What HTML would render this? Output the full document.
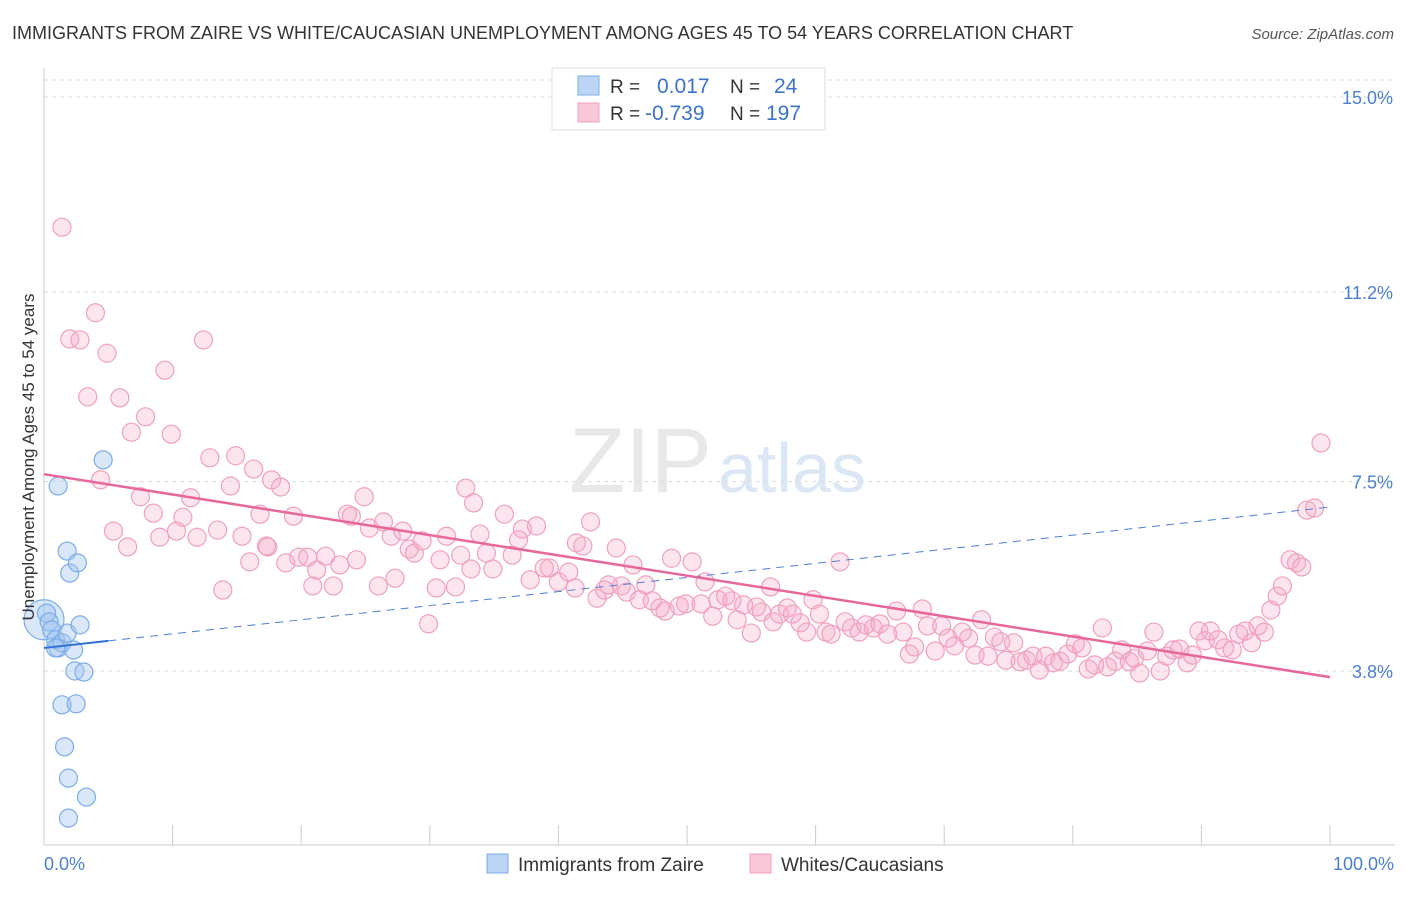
<!DOCTYPE html>
<html><head><meta charset="utf-8"><style>
body{margin:0;background:#fff;font-family:"Liberation Sans",sans-serif;}
svg text{font-family:"Liberation Sans",sans-serif;}
</style></head><body>
<svg id="chart" width="1406" height="892" xmlns="http://www.w3.org/2000/svg">
<text x="12" y="39" font-size="18" fill="#333">IMMIGRANTS FROM ZAIRE VS WHITE/CAUCASIAN UNEMPLOYMENT AMONG AGES 45 TO 54 YEARS CORRELATION CHART</text>
<text x="1394" y="39" font-size="15" fill="#555" text-anchor="end" font-style="italic">Source: ZipAtlas.com</text>
<text x="712" y="492" font-size="92" fill="#e8e8e8" text-anchor="end" font-family="Liberation Serif">ZIP</text>
<text x="718" y="492" font-size="70" fill="#dbe7f5">atlas</text>
<g id="grid"></g>
<g id="marks"></g>
<text transform="translate(34,457) rotate(-90)" font-size="17" fill="#333" text-anchor="middle">Unemployment Among Ages 45 to 54 years</text>
<text x="44" y="870" font-size="18" fill="#4a7fd0">0.0%</text>
<text x="1394" y="870" font-size="18" fill="#4a7fd0" text-anchor="end">100.0%</text>
<g>
<rect x="552" y="68" width="273" height="62" fill="#fff" stroke="#ddd"/>
<rect x="578" y="76" width="21" height="19" fill="#bcd5f5" stroke="#7aaee8"/>
<rect x="578" y="103" width="21" height="19" fill="#fac8d8" stroke="#f0a0be"/>
<text x="610" y="93" font-size="19" fill="#333">R =</text>
<text x="657" y="93" font-size="21" fill="#3a73cc">0.017</text>
<text x="730" y="93" font-size="19" fill="#333">N =</text>
<text x="774" y="93" font-size="21" fill="#3a73cc">24</text>
<text x="610" y="120" font-size="19" fill="#333">R =</text>
<text x="645" y="120" font-size="21" fill="#3a73cc">-0.739</text>
<text x="730" y="120" font-size="19" fill="#333">N =</text>
<text x="766" y="120" font-size="21" fill="#3a73cc">197</text>
</g>
<g>
<rect x="487" y="854" width="21" height="19" fill="#bcd5f5" stroke="#7aaee8"/>
<text x="518" y="871" font-size="19" fill="#333">Immigrants from Zaire</text>
<rect x="750" y="854" width="21" height="19" fill="#fac8d8" stroke="#f0a0be"/>
<text x="781" y="871" font-size="19" fill="#333">Whites/Caucasians</text>
</g>
</svg>
<script>
const yTicks=[3.8,7.5,11.2,15.0];
const yTickLabels=["3.8%","7.5%","11.2%","15.0%"];
const blueX=[0,0.2,0.4,0.6,0.9,1.1,1.4,1.8,2.3,1.1,1.8,2.0,2.6,2.8,4.6,2.4,3.1,1.4,2.5,1.6,1.9,3.3,1.9,0.9];
const blueY=[4.8,4.93,4.76,4.6,4.41,4.25,4.35,4.54,4.21,7.41,6.14,5.71,5.91,4.7,7.92,3.8,3.78,3.14,3.16,2.32,1.71,1.34,0.93,4.25];
const pinkX=[1.4,4.0,2.0,2.8,4.9,12.4,9.4,3.4,5.9,7.9,6.8,9.9,12.9,14.9,4.4,16.3,17.7,18.4,14.5,7.5,11.4,8.5,10.8,5.4,10.3,13.5,9.0,11.9,15.4,6.5,17.3,16.8,19.4,13.9,16.0,19.8,17.4,18.8,20.5,21.9,21.2,23.0,20.9,22.5,23.6,23.9,24.9,25.3,24.3,26.0,26.4,27.0,27.9,28.4,28.8,27.3,29.4,29.9,30.8,30.5,32.0,31.3,32.4,32.8,33.4,33.9,33.2,34.4,34.9,35.8,36.4,37.2,38.3,37.8,36.9,38.9,39.3,40.0,40.8,41.4,41.9,42.5,41.3,43.0,43.6,43.9,44.5,44.9,45.8,45.3,46.3,46.8,47.3,47.9,48.3,48.8,49.4,49.9,50.4,51.1,51.4,52.0,52.4,53.0,53.5,53.9,54.4,55.0,55.4,55.8,56.5,56.7,57.2,57.8,58.2,58.8,59.3,59.8,60.3,60.8,61.2,61.9,62.3,62.8,63.4,63.9,64.5,65.0,65.6,66.3,66.8,67.3,67.7,68.3,68.7,69.3,69.8,70.3,70.8,71.4,71.9,72.4,72.9,73.4,73.9,74.4,74.8,75.4,75.9,76.4,76.9,77.4,77.9,78.5,79.0,79.6,80.2,80.7,81.2,81.7,82.3,82.7,83.3,83.8,84.4,84.8,85.2,85.8,86.3,86.8,87.3,87.8,88.3,88.9,89.3,89.8,90.3,90.7,91.3,91.8,92.4,92.9,93.4,93.9,94.4,94.9,95.4,95.9,96.3,96.9,97.4,97.8,98.2,98.8,99.3];
const pinkY=[12.46,10.79,10.28,10.26,10.0,10.26,9.67,9.15,9.13,8.76,8.46,8.42,7.96,8.0,7.53,7.74,7.53,7.39,7.41,7.2,7.18,6.88,6.8,6.53,6.53,6.55,6.41,6.41,6.43,6.22,6.24,6.86,6.82,5.38,5.93,6.02,6.22,5.91,6.02,6.04,5.77,5.87,5.46,5.46,6.86,6.82,7.2,6.59,5.97,5.46,6.71,6.43,6.53,6.18,6.1,5.61,6.34,4.72,5.97,5.42,5.44,6.43,6.06,7.37,7.08,6.47,5.79,6.1,5.79,6.86,6.06,6.57,6.63,5.58,6.36,5.81,5.81,5.54,5.73,6.3,6.24,6.71,5.42,5.22,5.38,5.48,6.2,5.46,5.87,5.34,5.19,5.48,5.17,5.03,4.97,6.0,5.07,5.11,5.93,5.11,5.54,4.87,5.19,5.26,5.17,4.8,5.09,4.54,5.05,4.95,5.44,4.76,4.91,5.03,4.91,4.74,4.56,5.19,4.91,4.56,4.52,5.93,4.76,4.64,4.56,4.7,4.64,4.72,4.52,4.97,4.56,4.13,4.27,5.01,4.68,4.19,4.68,4.44,4.29,4.56,4.44,4.11,4.8,4.09,4.46,4.37,4.01,4.35,3.98,4.01,4.09,3.82,4.09,3.96,3.99,4.13,4.33,4.25,3.84,3.92,4.64,3.88,3.99,4.21,3.98,4.05,3.76,4.19,4.56,3.8,4.09,4.21,4.23,3.96,4.11,4.58,4.39,4.58,4.41,4.25,4.21,4.52,4.58,4.35,4.68,4.56,4.99,5.26,5.46,5.97,5.91,5.83,6.94,6.98,8.25];
const pinkTrend=[7.64,3.68];
const blueTrend=[4.25,7.0];
const blueSolidEnd=5;
const NS="http://www.w3.org/2000/svg";
const X=v=>44+v*12.86;
const Y=v=>97+(15-v)*51.25;
function mk(tag,attrs,parent){const e=document.createElementNS(NS,tag);for(const k in attrs)e.setAttribute(k,attrs[k]);parent.appendChild(e);return e;}
const grid=document.getElementById('grid'),marks=document.getElementById('marks');
let l=mk('line',{x1:44,x2:1395,y1:80,y2:80,stroke:'#ddd','stroke-dasharray':'4,4'},grid);


yTicks.forEach((t,i)=>{
 const g=mk('line',{x1:44,x2:1395,y1:Y(t),y2:Y(t),stroke:'#ddd','stroke-dasharray':'4,4'},grid);
 
 
 const tx=mk('text',{x:1393,y:Y(t)+7,'font-size':18,fill:'#4a7fd0','text-anchor':'end'},grid);
 tx.textContent=yTickLabels[i];
 
 
});
l=mk('line',{x1:44,x2:44,y1:68,y2:845,stroke:'#ccc'},grid);


l=mk('line',{x1:44,x2:1395,y1:845,y2:845,stroke:'#ccc'},grid);


for(let k=0;k<=10;k++){const t=mk('line',{x1:X(k*10),x2:X(k*10),y1:825,y2:845,stroke:'#ccc'},grid);
 
 }
pinkX.forEach((x,i)=>{const c=mk('circle',{cx:X(x),cy:Y(pinkY[i]),r:9,fill:'rgba(245,170,198,0.3)',stroke:'#f0a0be','stroke-width':1.2},marks);
 
 });
blueX.forEach((x,i)=>{const c=mk('circle',{cx:X(x),cy:Y(blueY[i]),r:i==0?20:9,fill:'rgba(160,196,240,0.4)',stroke:'#7aaee8','stroke-width':1.2},marks);
 
 });
const bAt=v=>blueTrend[0]+(blueTrend[1]-blueTrend[0])*v/100;
l=mk('line',{x1:X(blueSolidEnd),x2:X(100),y1:Y(bAt(blueSolidEnd)),y2:Y(bAt(100)),stroke:'#4a7fd0','stroke-width':1,'stroke-dasharray':'8,6'},marks);


l=mk('line',{x1:X(0),x2:X(blueSolidEnd),y1:Y(bAt(0)),y2:Y(bAt(blueSolidEnd)),stroke:'#2f6fd6','stroke-width':2},marks);


l=mk('line',{x1:X(0),x2:X(100),y1:Y(pinkTrend[0]),y2:Y(pinkTrend[1]),stroke:'#e8679a','stroke-width':2.5},marks);


</script>
</body></html>
